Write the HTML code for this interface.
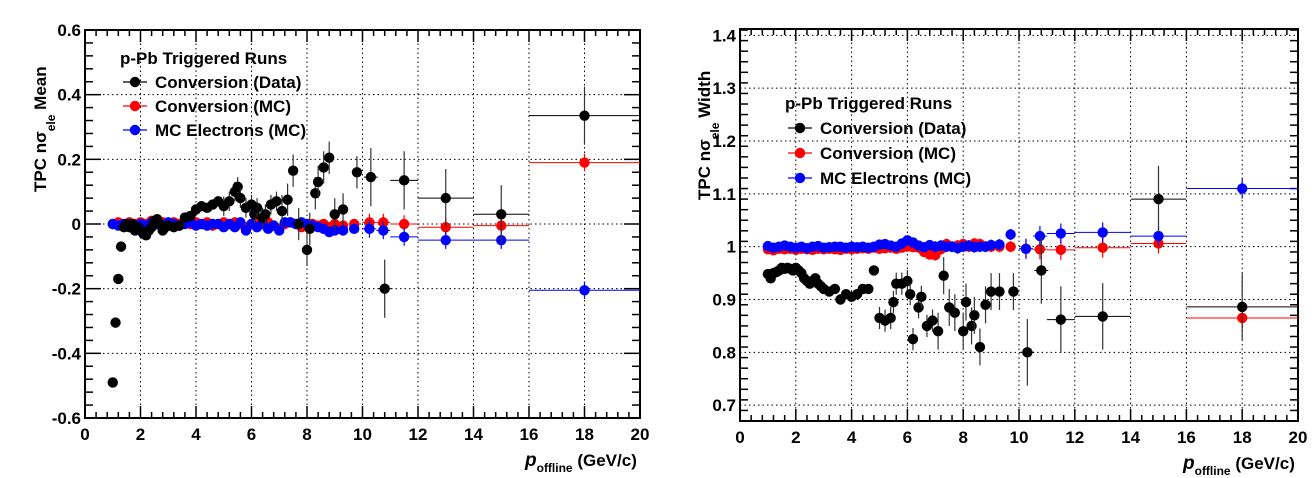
<!DOCTYPE html>
<html><head><meta charset="utf-8"><style>
body{margin:0;background:#fff}
svg{display:block;font-family:"Liberation Sans",sans-serif}
</style></head><body>
<svg id="c" width="1316" height="478"></svg>
<script>
// Left panel data (mean)
const xData=[1.0,1.1,1.2,1.3,1.4,1.5,1.6,1.7,1.8,1.9,2.0,2.1,2.2,2.3,2.4,2.5,2.6,2.7,2.8,2.9,3.0,3.2,3.4,3.6,3.8,4.0,4.2,4.4,4.6,4.8,5.0,5.2,5.4,5.5,5.6,5.8,6.0,6.1,6.2,6.4,6.5,6.7,6.9,7.1,7.3,7.5,7.7,8.0,8.1,8.3,8.4,8.6,8.8,9.0,9.3,9.8,10.3,10.8,11.5,13,15,18];
const meanData=[-0.49,-0.305,-0.17,-0.07,-0.01,0,-0.01,0,-0.02,-0.01,-0.02,-0.03,-0.035,-0.02,-0.01,0.01,0.015,0,-0.02,-0.01,-0.005,-0.01,-0.005,0.02,0.025,0.045,0.055,0.05,0.06,0.07,0.055,0.07,0.1,0.115,0.08,0.05,0.06,0.03,0.05,0.02,0.03,0.06,0.07,0.04,0.075,0.165,0,-0.08,-0.015,0.095,0.13,0.175,0.205,0.03,0.045,0.16,0.145,-0.2,0.135,0.08,0.03,0.335];
const widthData=[0.948,0.94,0.95,0.952,0.955,0.96,0.958,0.96,0.958,0.955,0.96,0.955,0.95,0.94,0.935,0.93,0.935,0.94,0.93,0.925,0.92,0.915,0.92,0.9,0.91,0.905,0.91,0.92,0.92,0.955,0.865,0.86,0.865,0.895,0.93,0.93,0.935,0.91,0.825,0.885,0.905,0.85,0.86,0.84,0.945,0.885,0.875,0.84,0.895,0.85,0.87,0.81,0.89,0.915,0.915,0.915,0.8,0.955,0.862,0.868,1.09,0.886];
const xMC=[1.0,1.2,1.4,1.6,1.8,2.0,2.2,2.4,2.6,2.8,3.0,3.2,3.4,3.6,3.8,4.0,4.2,4.4,4.6,4.8,5.0,5.2,5.4,5.6,5.8,6.0,6.2,6.4,6.6,6.8,7.0,7.2,7.4,7.6,7.8,8.0,8.2,8.4,8.6,8.8,9.0,9.3,9.7,10.25,10.75,11.5,13,15,18];
const meanConvMC=[0,0.005,0,0.005,0,0.005,0,0.01,0,0.005,0,0.005,0,0.005,0,0.005,0,0.005,-0.005,0,0.005,0,0.005,0,-0.01,0,0.005,0,0.005,-0.005,-0.015,0,0.005,0,-0.01,0,0,-0.005,0,-0.01,0,-0.005,0,0.005,0.005,0,-0.01,-0.005,0.19];
const meanEleMC=[0,-0.005,0,0,-0.005,0,-0.005,0.005,0,-0.005,0.005,0,-0.005,0,0.005,-0.005,0,-0.005,0,0,-0.01,0,-0.01,0.005,-0.02,0,-0.01,0,-0.015,-0.005,-0.02,0.005,0.005,0,0.005,0,-0.005,-0.01,-0.015,-0.025,-0.02,-0.02,-0.015,-0.015,-0.02,-0.04,-0.05,-0.05,-0.205];
const widthConvMC=[0.995,0.993,0.996,0.995,0.996,0.994,0.996,0.995,0.994,0.996,0.995,0.996,0.995,0.994,0.996,0.995,0.996,0.997,0.996,0.998,0.996,0.997,0.998,0.996,0.998,1.0,0.999,0.998,0.99,0.985,0.984,0.995,1.005,1.0,1.002,1.005,1.0,1.006,1.005,1.0,1.0,1.0,1.0,0.996,0.995,0.994,0.998,1.006,0.865];
const widthEleMC=[1.001,0.998,1.0,1.002,1.0,0.998,1.0,0.997,1.0,1.001,0.998,0.999,1.0,1.0,0.998,1.0,0.999,1.0,0.998,1.0,1.004,1.005,1.002,1.0,1.006,1.012,1.008,1.002,0.999,1.003,1.0,1.002,1.0,1.0,0.997,1.0,1.002,0.999,1.0,1.0,1.003,1.004,1.023,0.996,1.02,1.025,1.027,1.02,1.11];
const xTicks=[0,2,4,6,8,10,12,14,16,18,20];
const meanTicks=[-0.6,-0.4,-0.2,0,0.2,0.4,0.6];
const meanTickLabels=["-0.6","-0.4","-0.2","0","0.2","0.4","0.6"];
const widthTicks=[0.7,0.8,0.9,1,1.1,1.2,1.3,1.4];
const widthTickLabels=["0.7","0.8","0.9","1","1.1","1.2","1.3","1.4"];
const legendLabels=["Conversion (Data)","Conversion (MC)","MC Electrons (MC)"];

const NS="http://www.w3.org/2000/svg",svg=document.getElementById('c');
function mk(t,a,p){const e=document.createElementNS(NS,t);for(const k in a)e.setAttribute(k,a[k]);(p||svg).appendChild(e);return e;}
function binHalf(x){if(x>=16)return 2;if(x>=12)return 1;if(x>=11)return 0.5;if(x>=10)return 0.25;return 0;}
function errOf(x,scale){if(x<3)return 0.003*scale;if(x<5)return 0.01*scale;if(x<7)return 0.03*scale;if(x<10)return 0.05*scale;return 0.09*scale;}

function panel(o){
  const X=v=>o.x0+(v-0)/20*(o.x1-o.x0);
  const Y=v=>o.y0-(v-o.ymin)/(o.ymax-o.ymin)*(o.y0-o.y1);
  const g=mk('g',{});
  
  
  xTicks.forEach(t=>{if(t>0&&t<20){const l=mk('line',{x1:X(t),x2:X(t),y1:o.y1,y2:o.y0,stroke:'#000','stroke-dasharray':'1.5,3','stroke-width':1},g);}});
  o.ticks.forEach(t=>{const l=mk('line',{x1:o.x0,x2:o.x1,y1:Y(t),y2:Y(t),stroke:'#000','stroke-dasharray':'1.5,3','stroke-width':1},g);});
  const fr=mk('rect',{x:o.x0,y:o.y1,width:o.x1-o.x0,height:o.y0-o.y1,fill:'none',stroke:'#000','stroke-width':2},g);
  
  for(let v=0;v<=20.001;v+=0.4){const maj=Math.abs(v/2-Math.round(v/2))<0.01;const len=maj?12:6;
    mk('line',{x1:X(v),x2:X(v),y1:o.y0,y2:o.y0-len,stroke:'#000','stroke-width':1.5},g);
    mk('line',{x1:X(v),x2:X(v),y1:o.y1,y2:o.y1+len,stroke:'#000','stroke-width':1.5},g);}
  xTicks.forEach(t=>{const tx=mk('text',{x:X(t),y:o.y0+22,'font-size':17,'font-weight':'bold','text-anchor':'middle'},g);tx.textContent=t;});
  const step=(o.ticks[1]-o.ticks[0])/5;
  for(let v=o.ymin;v<=o.ymax+1e-6;v+=step){const r=(v-o.ticks[0])/(o.ticks[1]-o.ticks[0]);const maj=Math.abs(r-Math.round(r))<0.01;const len=maj?16:8;
    mk('line',{x1:o.x0,x2:o.x0+len,y1:Y(v),y2:Y(v),stroke:'#000','stroke-width':1.5},g);
    mk('line',{x1:o.x1,x2:o.x1-len,y1:Y(v),y2:Y(v),stroke:'#000','stroke-width':1.5},g);}
  o.ticks.forEach((t,i)=>{const tx=mk('text',{x:o.x0-4,y:Y(t)+6,'font-size':17,'font-weight':'bold','text-anchor':'end'},g);tx.textContent=o.tickLabels[i];});
  const series=[[xMC,o.mc1,'#f00',0.3],[xMC,o.mc2,'#00f',0.3],[xData,o.data,'#000',1]];
  series.forEach(([xs,ys,col,sc],si)=>{
    xs.forEach((x,i)=>{const y=ys[i];const h=binHalf(x);const e=errOf(x,sc)*o.escale;
      if(h>0)mk('line',{x1:X(x-h),x2:X(x+h),y1:Y(y),y2:Y(y),stroke:col,'stroke-width':1},g);
      if(e>0)mk('line',{x1:X(x),x2:X(x),y1:Y(y-e),y2:Y(y+e),stroke:col==='#000'?'#333':col,'stroke-width':1.2},g);
      const c=mk('circle',{cx:X(x),cy:Y(y),r:5.2,fill:col},g);
      
      });
  });
  const lg=mk('g',{},g);
  const tt=mk('text',{x:o.lx,y:o.ly,'font-size':17,'font-weight':'bold'},lg);tt.textContent='p-Pb Triggered Runs';
  ['#000','#f00','#00f'].forEach((col,i)=>{const yy=o.ly+o.lsp*(i+1);
    const e=mk('g',{},lg);
    mk('line',{x1:o.lx+3,x2:o.lx+27,y1:yy-6,y2:yy-6,stroke:col,'stroke-width':1.2},e);
    mk('circle',{cx:o.lx+15,cy:yy-6,r:5.2,fill:col},e);
    const t=mk('text',{x:o.lx+35,y:yy,'font-size':17,'font-weight':'bold'},e);t.textContent=legendLabels[i];});
  const yt=mk('text',{transform:`translate(${o.ytx},${o.yty}) rotate(-90)`,'font-size':17,'font-weight':'bold','text-anchor':'start'},g);
  yt.innerHTML=`TPC nσ<tspan font-size="12" dy="9">ele</tspan><tspan dy="-9"> ${o.ytitle}</tspan>`;
  
  const xt=mk('text',{x:o.x1-115,y:o.y0+48,'font-size':17,'font-weight':'bold'},g);
  xt.innerHTML='<tspan font-style="italic" font-size="19">p</tspan><tspan font-size="12" dy="6">offline</tspan><tspan dy="-6"> (GeV/c)</tspan>';
  
}
panel({name:'mean-panel',x0:85,x1:640,y0:418,y1:30,ymin:-0.6,ymax:0.6,ticks:meanTicks,tickLabels:meanTickLabels,
  data:meanData,mc1:meanConvMC,mc2:meanEleMC,escale:1,lx:120,ly:64,lsp:24,ytx:46,yty:192,ytitle:'Mean'});
panel({name:'width-panel',x0:740,x1:1298,y0:421,y1:29,ymin:0.67,ymax:1.412,ticks:widthTicks,tickLabels:widthTickLabels,
  data:widthData,mc1:widthConvMC,mc2:widthEleMC,escale:0.7,lx:785,ly:109,lsp:25,ytx:710,yty:200,ytitle:'Width'});
</script>
</body></html>
